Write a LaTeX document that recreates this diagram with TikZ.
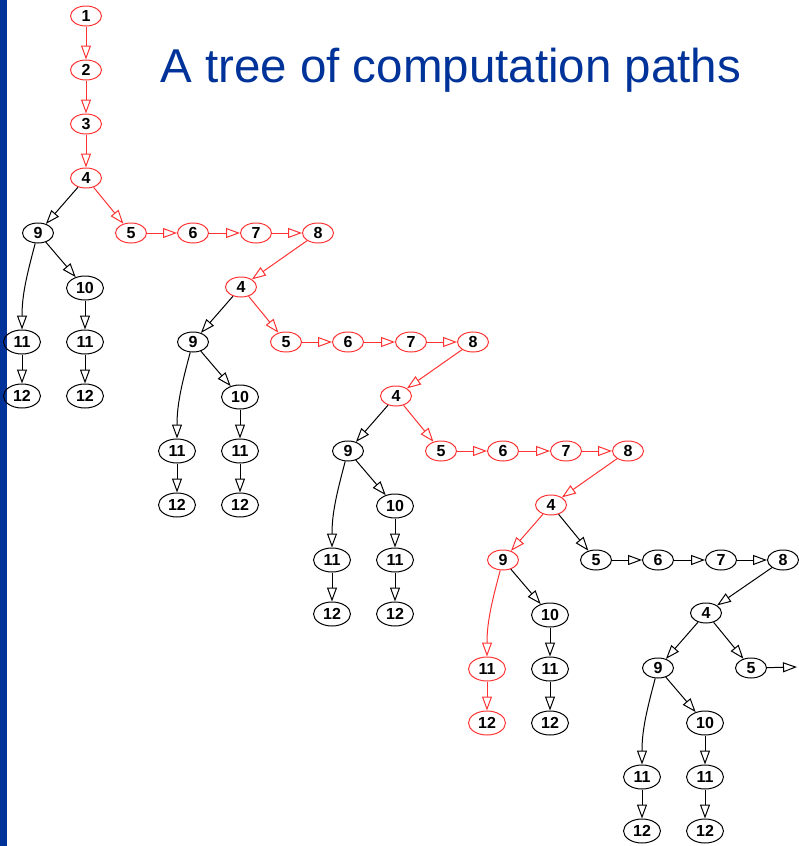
\documentclass[tikz,border=0pt]{standalone}
\usepackage{fontspec}
\setsansfont{Liberation Sans}
\usepackage{tikz}
\usetikzlibrary{arrows.meta,shapes.geometric}
\definecolor{pathred}{HTML}{FF3333}
\definecolor{slideblue}{HTML}{003399}
\tikzset{
  cp/state/.style={draw, ellipse, line width=1pt, inner sep=0pt, minimum width=31pt, minimum height=20pt,
    font=\sffamily\bfseries\fontsize{16}{16}\selectfont},
  cp/wide/.style={cp/state, minimum width=37pt, minimum height=24pt},
  cp/edge/.style={line width=1pt, draw=#1, -{Triangle[open, length=14pt, width=10pt]}},
  cp/edge/.default=black,
  cp/title/.style={font=\sffamily\fontsize{47.5}{58}\selectfont, text=slideblue, inner sep=0pt, anchor=base west}
}

\begin{document}
\begin{tikzpicture}[x=1pt, y=-1pt]
  \useasboundingbox (0,0) rectangle (798,846);
  \fill[slideblue] (0,0) rectangle (6.5,846);
  \node[cp/title] (title) at (160,82) {A tree of computation paths};

  % start of the run
  \node[cp/state, draw=pathred] (n1) at (86,16) {1};
  \node[cp/state, draw=pathred] (n2) at (86,70) {2};
  \node[cp/state, draw=pathred] (n3) at (86,124) {3};

  % one branching at 4 per block: 4 -> 9 -> {10, 11 -> 12} and 4 -> 5
  \foreach \b/\x/\y/\ca/\cb/\cc in {1/86/178/pathred/black/pathred,
                                    2/241/287/pathred/black/pathred,
                                    3/396/396/pathred/black/pathred,
                                    4/551/505/pathred/pathred/black,
                                    5/706/613/black/black/black}{
    \begin{scope}[shift={(\x,\y)}]
      \node[cp/state, draw=\ca] (n4-\b) at (0,0) {4};
      \node[cp/state, draw=\cb] (n9-\b) at (-48,55) {9};
      \node[cp/state, draw=\cc] (n5-\b) at (45,55) {5};
      \node[cp/wide] (n10-\b) at (-1,110) {10};
      \node[cp/wide, draw=\cb] (n11a-\b) at (-64,164) {11};
      \node[cp/wide] (n11b-\b) at (-1,164) {11};
      \node[cp/wide, draw=\cb] (n12a-\b) at (-64,218) {12};
      \node[cp/wide] (n12b-\b) at (-1,218) {12};

      \draw[cp/edge=\cb] (n4-\b) -- (n9-\b);
      \draw[cp/edge=\cc] (n4-\b) -- (n5-\b);
      \draw[cp/edge] (n9-\b) -- (n10-\b);
      \draw[cp/edge=\cb] (n9-\b) to[out=-105, in=90] (n11a-\b);
      \draw[cp/edge=\cb] (n11a-\b) -- (n12a-\b);
      \draw[cp/edge] (n10-\b) -- (n11b-\b);
      \draw[cp/edge] (n11b-\b) -- (n12b-\b);
    \end{scope}
  }

  % loop body 5 -> 6 -> 7 -> 8, back into 4 of the next block
  \foreach \b/\nb/\x/\y/\cc in {1/2/86/178/pathred, 2/3/241/287/pathred,
                               3/4/396/396/pathred, 4/5/551/505/black}{
    \begin{scope}[shift={(\x,\y)}]
      \node[cp/state, draw=\cc] (n6-\b) at (107,55) {6};
      \node[cp/state, draw=\cc] (n7-\b) at (170,55) {7};
      \node[cp/state, draw=\cc] (n8-\b) at (232,55) {8};
    \end{scope}
    \draw[cp/edge=\cc] (n5-\b) -- (n6-\b);
    \draw[cp/edge=\cc] (n6-\b) -- (n7-\b);
    \draw[cp/edge=\cc] (n7-\b) -- (n8-\b);
    \draw[cp/edge=\cc] (n8-\b) -- (n4-\nb);
  }

  \draw[cp/edge=pathred] (n1) -- (n2);
  \draw[cp/edge=pathred] (n2) -- (n3);
  \draw[cp/edge=pathred] (n3) -- (n4-1);

  \coordinate (off) at (797,667);
  \draw[cp/edge] (n5-5) -- (off);
\end{tikzpicture}
\end{document}
